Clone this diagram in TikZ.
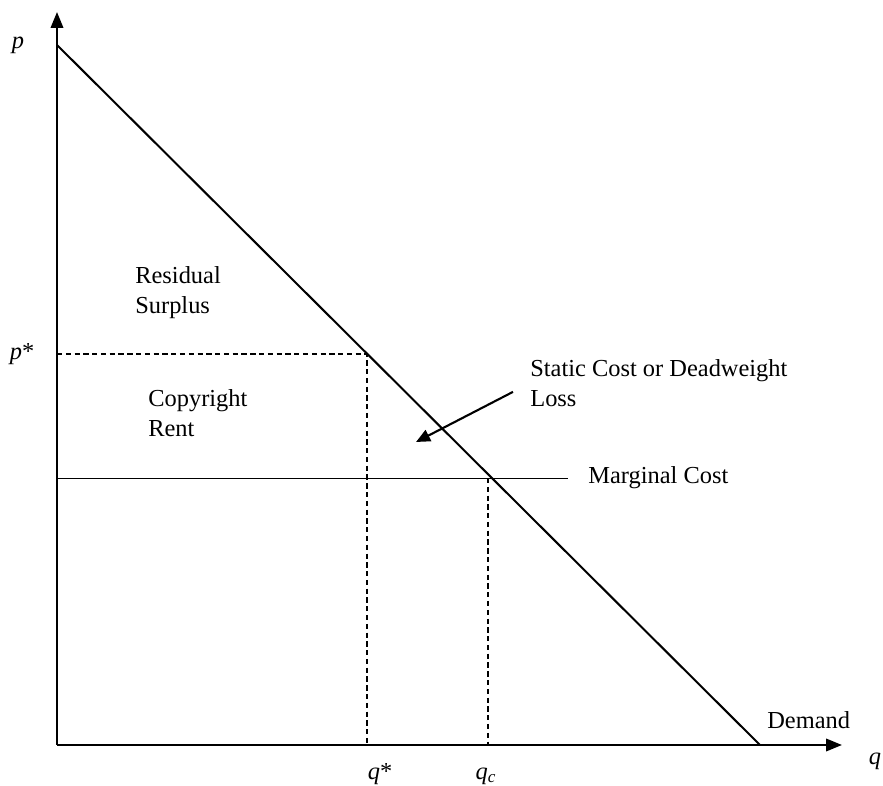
\documentclass[tikz,border=0pt]{standalone}
\usepackage{fontspec}
\setmainfont{Liberation Serif}
\usetikzlibrary{arrows.meta}
\begin{document}
\begin{tikzpicture}[x=0.02cm, y=-0.02cm,
        font=\fontsize{13.9}{17}\selectfont,
        eixo/.style={line width=1.35pt, -{Triangle[length=9pt, width=7pt]}},
        guia/.style={line width=0.8pt, dash pattern=on 3pt off 2pt},
        rotulo/.style={align=left, inner sep=0pt, anchor=north west}]
        \useasboundingbox (0,0) rectangle (883,786);
        % eixos e curva de demanda
        \coordinate (O) at (57,745);
        \coordinate (ytop) at (57,12);
        \coordinate (xend) at (842,745);
        \coordinate (dA) at (57,45);
        \coordinate (dB) at (760,745);
        \coordinate (pst) at (57,354);
        \coordinate (eq) at (367,354);
        \coordinate (qst) at (367,745);
        \coordinate (mc0) at (57,478);
        \coordinate (mc1) at (568,478);
        \coordinate (cx) at (488,478);
        \coordinate (qc) at (488,745);
        \draw[eixo] (O) -- (ytop);
        \draw[eixo] (O) -- (xend);
        \draw[line width=1.15pt] (dA) -- (dB);
        \draw[guia] (pst) -- (eq) -- (qst);
        \draw[guia] (cx) -- (qc);
        \draw[line width=0.5pt] (mc0) -- (mc1);
        % rotulos dos eixos
        \foreach \x/\y/\nome/\txt in {
            18/45/lp/\textit{p},
            22/354/lpst/\textit{p}*,
            380/774/lqst/\textit{q}*,
            486/776/lqc/\textit{q}\textsubscript{\textit{c}},
            875/761/lq/\textit{q}}{
            \node[inner sep=0pt] (\nome) at (\x,\y) {\txt};
        }
        % textos das areas
        \node[rotulo] (res) at (135,266) {Residual\\Surplus};
        \node[rotulo] (rent) at (148,389) {Copyright\\Rent};
        \node[rotulo] (dwl) at (530,359) {Static Cost or Deadweight\\Loss};
        \node[rotulo, anchor=west] (mc) at (588,478) {Marginal Cost};
        \node[rotulo, anchor=west] (dem) at (767,720) {Demand};
        \coordinate (alvo) at (416,442);
        \draw[line width=1.2pt, -{Triangle[length=8pt, width=7pt]}] (dwl.west) ++(-17,9) coordinate (ini) (ini) -- (alvo);
\end{tikzpicture}
\end{document}
